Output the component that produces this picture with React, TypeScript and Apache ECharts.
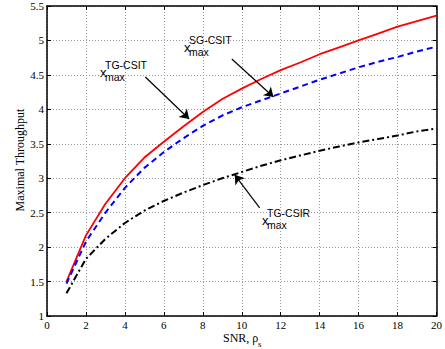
import React, { useEffect, useRef } from "react";
import * as echarts from "echarts";

const snr = [1, 2, 3, 4, 5, 6, 7, 8, 9, 10, 11, 12, 13, 14, 15, 16, 17, 18, 19, 20];
const tgCsit = [1.5, 2.17, 2.63, 3.0, 3.3, 3.53, 3.75, 3.96, 4.15, 4.3, 4.44, 4.57, 4.68, 4.8, 4.9, 5.0, 5.1, 5.2, 5.28, 5.36];
const sgCsit = [1.47, 2.08, 2.5, 2.86, 3.15, 3.38, 3.58, 3.76, 3.91, 4.03, 4.13, 4.23, 4.33, 4.43, 4.52, 4.61, 4.69, 4.76, 4.84, 4.91];
const tgCsir = [1.33, 1.83, 2.12, 2.35, 2.53, 2.67, 2.79, 2.9, 3.0, 3.09, 3.18, 3.26, 3.33, 3.4, 3.46, 3.52, 3.57, 3.62, 3.68, 3.72];

// annotation arrows: [start, tip] in data coordinates
const arrows = [
  [[5.05, 4.47], [7.3, 3.86]],
  [[9.49, 4.73], [11.63, 4.18]],
  [[10.92, 2.57], [9.64, 3.05]],
];

const serif = "Liberation Serif";
const sans = "Liberation Sans";

export default function App() {
  const ref = useRef<HTMLDivElement>(null);
  useEffect(() => {
    const chart = echarts.init(ref.current!, null, { renderer: "svg" });
    const pairs = (ys: number[]) => snr.map((x, i) => [x, ys[i]]);
    const baseAxis = {
      type: "value" as const,
      axisLine: { show: true, onZero: false, lineStyle: { color: "#000", width: 1.5 } },
      axisTick: { show: true, inside: true, length: 4, lineStyle: { color: "#000", width: 1 } },
    };
    const label = (x: number, y: number, sup: string) => [
      { type: "text", x, y, style: { text: "x", font: `13px ${sans}`, fill: "#000", textVerticalAlign: "middle" } },
      { type: "text", x: x + 5, y: y - 7, style: { text: sup, font: `10.5px ${sans}`, fill: "#000", textVerticalAlign: "middle" } },
      { type: "text", x: x + 5, y: y + 5, style: { text: "max", font: `10.5px ${sans}`, fill: "#000", textVerticalAlign: "middle" } },
    ];
    chart.setOption({
      animation: false,
      grid: { left: 47, right: 6, top: 6, bottom: 33, containLabel: false },
      xAxis: [
        {
          ...baseAxis,
          min: 0, max: 20, interval: 2,
          axisLabel: { color: "#000", fontFamily: serif, fontSize: 11, margin: 3 },
          splitLine: { show: true, lineStyle: { color: "#999", type: [1, 2], width: 1 } },
        },
        {
          ...baseAxis,
          position: "top",
          min: 0, max: 20, interval: 2,
          axisLabel: { show: false },
          splitLine: { show: false },
        },
      ],
      yAxis: [
        {
          ...baseAxis,
          min: 1, max: 5.5, interval: 0.5,
          axisLabel: { color: "#000", fontFamily: serif, fontSize: 11, margin: 3 },
          splitLine: { show: true, lineStyle: { color: "#999", type: [1, 2], width: 1 } },
        },
        {
          ...baseAxis,
          position: "right",
          min: 1, max: 5.5, interval: 0.5,
          axisLabel: { show: false },
          splitLine: { show: false },
        },
      ],
      series: [
        {
          name: "TG-CSIT", type: "line", data: pairs(tgCsit), showSymbol: false,
          lineStyle: { color: "#ff0000", width: 1.8, type: "solid" },
        },
        {
          name: "SG-CSIT", type: "line", data: pairs(sgCsit), showSymbol: false,
          lineStyle: { color: "#0000ff", width: 2, type: [6, 4] },
        },
        {
          name: "TG-CSIR", type: "line", data: pairs(tgCsir), showSymbol: false,
          lineStyle: { color: "#000", width: 2, type: [7, 3, 2, 3] },
          markLine: {
            silent: true,
            symbol: ["none", "arrow"],
            symbolSize: 9,
            label: { show: false },
            lineStyle: { color: "#000", width: 1.2, type: "solid" },
            data: arrows.map(([s, t]) => [{ coord: s }, { coord: t }]),
          },
        },
      ],
      graphic: [
        ...label(100, 72, "TG-CSIT"),
        ...label(184, 47, "SG-CSIT"),
        ...label(262, 220, "TG-CSIR"),
        { type: "text", x: 223, y: 337.5, style: { text: "SNR, ρ", font: `12px ${serif}`, fill: "#000", textVerticalAlign: "middle" } },
        { type: "text", x: 258, y: 344, style: { text: "s", font: `9px ${serif}`, fill: "#000", textVerticalAlign: "middle" } },
        {
          type: "text", x: 20, y: 160, rotation: Math.PI / 2,
          style: { text: "Maximal Throughput", font: `12px ${serif}`, fill: "#000", textAlign: "center", textVerticalAlign: "middle" },
        },
      ],
    });
    return () => chart.dispose();
  }, []);
  return <div ref={ref} style={{ width: 445, height: 349, position: "absolute", left: 0, top: 0 }} />;
}
